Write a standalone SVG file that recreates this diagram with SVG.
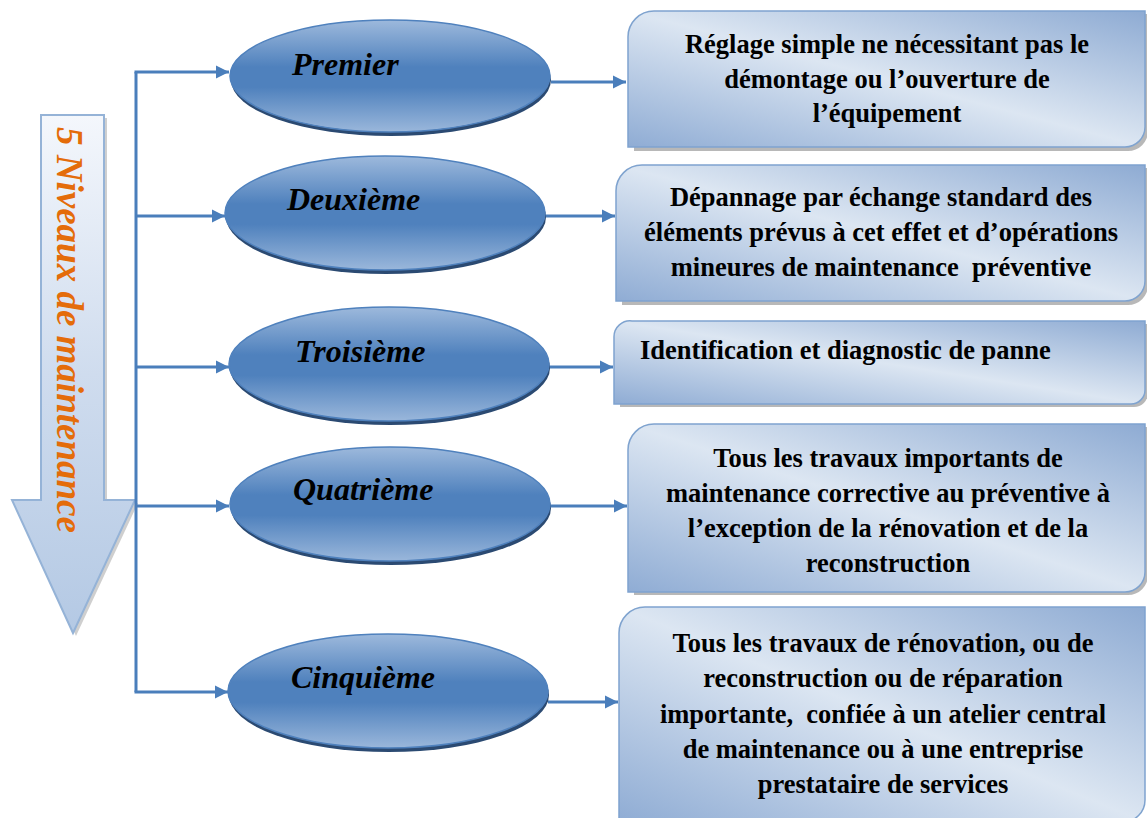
<svg xmlns="http://www.w3.org/2000/svg" width="1147" height="818" viewBox="0 0 1147 818">
<defs>
<style>
.conn{stroke:#4A7EBB;stroke-width:3;fill:none}
.ell{fill:url(#gEll);stroke:#4F81BD;stroke-width:1.5}
.ellsh{fill:#2B4A72}
.lbl{font-family:"Liberation Serif","Times New Roman",serif;font-weight:bold;font-style:italic;font-size:32px;fill:#000}
.box{fill:url(#gBox);stroke:#7FA3CF;stroke-width:1.5}
.boxsh{fill:#9A9A9A;opacity:0.7}
.txt{font-family:"Liberation Serif","Times New Roman",serif;font-weight:bold;font-size:26.5px;fill:#000;text-anchor:middle;white-space:pre}
</style>
<linearGradient id="gEll" x1="0" y1="0" x2="0" y2="1">
<stop offset="0" stop-color="#9DB9DC"/>
<stop offset="0.42" stop-color="#4F81BD"/>
<stop offset="0.6" stop-color="#4F81BD"/>
<stop offset="1" stop-color="#9AB7DB"/>
</linearGradient>
<linearGradient id="gBox" x1="1" y1="0" x2="0" y2="1">
<stop offset="0" stop-color="#8EABD3"/>
<stop offset="0.5" stop-color="#DCE6F2"/>
<stop offset="1" stop-color="#8FACD4"/>
</linearGradient>
<linearGradient id="gArrow" x1="0" y1="0" x2="0" y2="1">
<stop offset="0" stop-color="#F4F7FC"/>
<stop offset="0.5" stop-color="#CFDCEE"/>
<stop offset="1" stop-color="#B4C9E4"/>
</linearGradient>
<marker id="ah" viewBox="0 0 10 10" refX="10" refY="5" markerWidth="4.5" markerHeight="4.5" orient="auto" markerUnits="strokeWidth">
<path d="M0,0 L10,5 L0,10 Z" fill="#4A7EBB"/>
</marker>
<clipPath id="clip4"><rect x="600" y="420" width="547" height="153"/></clipPath>
</defs>

<g id="levels-arrow">
<path d="M44,118 H107 V503 H138 L76,636 L15,503 H44 Z" fill="#A0A0A0" opacity="0.5"/>
<path d="M41,115 H104 V500 H135 L73,633 L12,500 H41 Z" fill="url(#gArrow)" stroke="#95B3D7" stroke-width="2"/>
<text transform="translate(57,127) rotate(90)" font-family="'Liberation Serif','Times New Roman',serif" font-weight="bold" font-style="italic" font-size="37" fill="#E46C0A">5 Niveaux de maintenance</text>
</g>

<g id="connectors">
<path class="conn" d="M136,72 V692"/>
<path class="conn" d="M134.5,72 H229" marker-end="url(#ah)"/>
<path class="conn" d="M136,216 H225" marker-end="url(#ah)"/>
<path class="conn" d="M136,367 H229" marker-end="url(#ah)"/>
<path class="conn" d="M136,506 H229" marker-end="url(#ah)"/>
<path class="conn" d="M134.5,692 H228" marker-end="url(#ah)"/>
<path class="conn" d="M551,82 H626" marker-end="url(#ah)"/>
<path class="conn" d="M545,216 H615" marker-end="url(#ah)"/>
<path class="conn" d="M549,367 H613" marker-end="url(#ah)"/>
<path class="conn" d="M550,506 H627" marker-end="url(#ah)"/>
<path class="conn" d="M548,702 H618" marker-end="url(#ah)"/>
</g>

<g id="n-premier">
<ellipse class="ellsh" cx="391" cy="80" rx="160" ry="56"/>
<ellipse class="ell" cx="390" cy="76" rx="160" ry="56"/>
<text class="lbl" x="292" y="75">Premier</text>
</g>
<g id="n-deuxieme">
<ellipse class="ellsh" cx="386" cy="217" rx="160" ry="57"/>
<ellipse class="ell" cx="385" cy="213" rx="160" ry="57"/>
<text class="lbl" x="287" y="210">Deuxième</text>
</g>
<g id="n-troisieme">
<ellipse class="ellsh" cx="390" cy="368" rx="160" ry="57"/>
<ellipse class="ell" cx="389" cy="364" rx="160" ry="57"/>
<text class="lbl" x="295" y="362">Troisième</text>
</g>
<g id="n-quatrieme">
<ellipse class="ellsh" cx="391" cy="508" rx="160" ry="57"/>
<ellipse class="ell" cx="390" cy="504" rx="160" ry="57"/>
<text class="lbl" x="293" y="500">Quatrième</text>
</g>
<g id="n-cinquieme">
<ellipse class="ellsh" cx="389" cy="695" rx="160" ry="57"/>
<ellipse class="ell" cx="388" cy="691" rx="160" ry="57"/>
<text class="lbl" x="291" y="688">Cinquième</text>
</g>

<g id="b-premier">
<path class="boxsh" d="M658,14 H1148 V131 A20,20 0 0 1 1128,151 H634 V40 A26,26 0 0 1 658,14 Z"/>
<path class="box" d="M654,11 H1145 V127 A20,20 0 0 1 1125,147 H628 V37 A26,26 0 0 1 654,11 Z"/>
<text class="txt" x="887" y="53">Réglage simple ne nécessitant pas le</text>
<text class="txt" x="887" y="88">démontage ou l’ouverture de</text>
<text class="txt" x="887" y="122">l’équipement</text>
</g>
<g id="b-deuxieme">
<path class="boxsh" d="M646,168 H1148 V285 A20,20 0 0 1 1128,305 H622 V194 A26,26 0 0 1 646,168 Z"/>
<path class="box" d="M642,165 H1145 V281 A20,20 0 0 1 1125,301 H616 V191 A26,26 0 0 1 642,165 Z"/>
<text class="txt" x="881" y="206">Dépannage par échange standard des</text>
<text class="txt" x="881" y="241">éléments prévus à cet effet et d’opérations</text>
<text class="txt" x="881" y="276">mineures de maintenance  préventive</text>
</g>
<g id="b-troisieme">
<path class="boxsh" d="M636,324 H1148 V393 A14,14 0 0 1 1134,407 H620 V340 A16,16 0 0 1 636,324 Z"/>
<path class="box" d="M632,321 H1145 V390 A14,14 0 0 1 1131,404 H614 V337 A16,16 0 0 1 632,321 Z"/>
<text class="txt" x="640" y="359" style="text-anchor:start">Identification et diagnostic de panne</text>
</g>
<g id="b-quatrieme">
<path class="boxsh" d="M658,427 H1148 V575 A20,20 0 0 1 1128,595 H634 V453 A26,26 0 0 1 658,427 Z"/>
<path class="box" d="M654,424 H1145 V572 A20,20 0 0 1 1125,592 H628 V450 A26,26 0 0 1 654,424 Z"/>
<g clip-path="url(#clip4)">
<text class="txt" x="888" y="467">Tous les travaux importants de</text>
<text class="txt" x="888" y="502">maintenance corrective au préventive à</text>
<text class="txt" x="888" y="537">l’exception de la rénovation et de la</text>
<text class="txt" x="888" y="572">reconstruction</text>
</g>
</g>
<g id="b-cinquieme">
<path class="box" d="M645,607 H1145 V800 A22,22 0 0 1 1123,822 H619 V633 A26,26 0 0 1 645,607 Z"/>
<text class="txt" x="883" y="652">Tous les travaux de rénovation, ou de</text>
<text class="txt" x="883" y="687">reconstruction ou de réparation</text>
<text class="txt" x="883" y="723">importante,  confiée à un atelier central</text>
<text class="txt" x="883" y="758">de maintenance ou à une entreprise</text>
<text class="txt" x="883" y="793">prestataire de services</text>
</g>
</svg>
